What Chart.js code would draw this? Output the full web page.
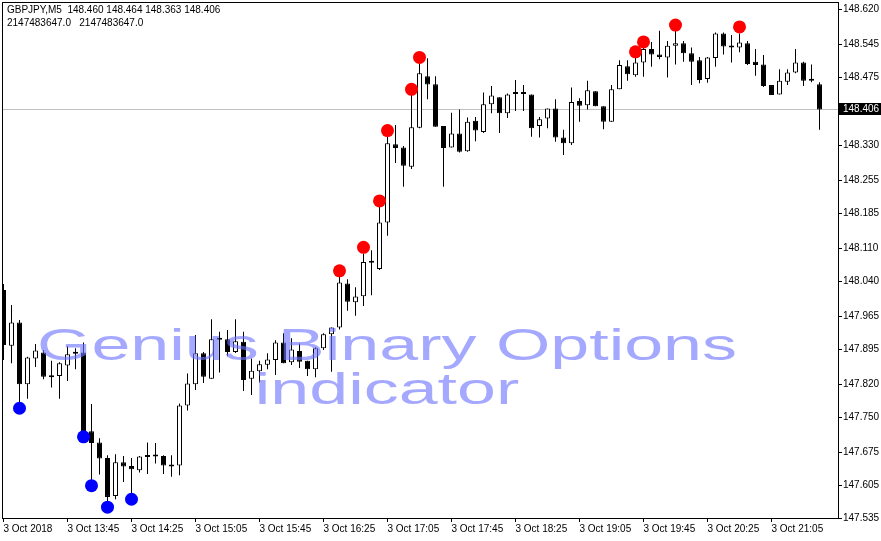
<!DOCTYPE html>
<html>
<head>
<meta charset="utf-8">
<title>GBPJPY M5</title>
<script src="https://cdn.jsdelivr.net/npm/chart.js@4.4.1/dist/chart.umd.min.js"></script>
<style>
html, body { margin: 0; padding: 0; background: #fff; }
canvas { display: block; }
</style>
</head>
<body>
<canvas id="gbpjpy" width="881" height="541"></canvas>
<script>
var headerLine1 = 'GBPJPY,M5  148.460 148.464 148.363 148.406';
var headerLine2 = '2147483647.0   2147483647.0';
var watermark = ['Genius Binary Options', 'indicator'];

// M5 bars, 13:05 .. 21:35
var opens = [148.021,147.902,147.952,147.820,147.875,147.888,147.838,147.838,147.860,147.885,
  147.888,147.720,147.696,147.663,147.582,147.654,147.646,147.637,147.665,147.666,
  147.667,147.647,147.647,147.775,147.820,147.886,147.832,147.916,147.916,147.889,
  147.911,147.832,147.848,147.862,147.872,147.909,147.867,147.891,147.870,147.852,
  147.897,147.927,147.941,148.035,147.995,148.008,148.080,148.066,148.165,148.332,
  148.325,148.284,148.367,148.477,148.460,148.371,148.325,148.355,148.317,148.382,
  148.358,148.417,148.432,148.398,148.440,148.440,148.438,148.371,148.387,148.408,
  148.346,148.334,148.424,148.415,148.445,148.413,148.380,148.449,148.498,148.479,
  148.506,148.535,148.523,148.517,148.542,148.547,148.526,148.511,148.471,148.516,
  148.568,148.541,148.538,148.547,148.508,148.502,148.458,148.438,148.465,148.485,
  148.506,148.471,148.460];
var highs = [148.034,147.989,147.957,147.879,147.906,147.893,147.870,147.867,147.901,147.897,
  147.909,147.778,147.705,147.669,147.671,147.667,147.663,147.667,147.696,147.695,
  147.669,147.669,147.779,147.843,147.925,147.889,147.959,147.932,147.936,147.959,
  147.932,147.875,147.870,147.886,147.914,147.929,147.918,147.907,147.870,147.899,
  147.929,147.941,148.049,148.044,148.027,148.099,148.106,148.199,148.348,148.373,
  148.328,148.437,148.504,148.515,148.477,148.371,148.399,148.406,148.389,148.390,
  148.442,148.456,148.432,148.440,148.469,148.458,148.438,148.390,148.408,148.428,
  148.363,148.453,148.430,148.467,148.445,148.413,148.458,148.511,148.511,148.536,
  148.543,148.550,148.574,148.552,148.575,148.552,148.538,148.518,148.518,148.570,
  148.570,148.565,148.568,148.552,148.535,148.522,148.458,148.492,148.492,148.535,
  148.508,148.502,148.464];
var lows = [147.872,147.865,147.780,147.789,147.857,147.831,147.813,147.789,147.827,147.852,
  147.712,147.612,147.628,147.570,147.575,147.612,147.584,147.632,147.629,147.651,
  147.629,147.623,147.626,147.764,147.808,147.823,147.832,147.845,147.880,147.887,
  147.806,147.797,147.824,147.852,147.840,147.865,147.861,147.855,147.838,147.835,
  147.893,147.847,147.937,147.977,147.966,147.987,148.010,148.064,148.137,148.292,
  148.241,148.279,148.366,148.428,148.369,148.241,148.325,148.314,148.316,148.338,
  148.356,148.398,148.356,148.388,148.403,148.403,148.348,148.346,148.366,148.337,
  148.309,148.330,148.380,148.406,148.413,148.364,148.380,148.449,148.467,148.476,
  148.476,148.497,148.513,148.474,148.502,148.508,148.458,148.462,148.463,148.497,
  148.523,148.506,148.528,148.501,148.478,148.454,148.437,148.438,148.458,148.483,
  148.456,148.464,148.363];
var closes = [147.904,147.952,147.820,147.877,147.892,147.836,147.835,147.865,147.884,147.889,
  147.715,147.695,147.662,147.580,147.654,147.645,147.639,147.666,147.667,147.667,
  147.647,147.645,147.775,147.822,147.886,147.836,147.916,147.915,147.889,147.912,
  147.829,147.849,147.863,147.873,147.909,147.865,147.894,147.868,147.852,147.897,
  147.927,147.941,148.037,147.996,148.007,148.081,148.079,148.165,148.334,148.324,
  148.286,148.368,148.483,148.459,148.369,148.324,148.355,148.316,148.380,148.361,
  148.417,148.436,148.398,148.438,148.439,148.439,148.366,148.385,148.408,148.346,
  148.334,148.422,148.414,148.447,148.413,148.380,148.449,148.501,148.481,148.506,
  148.535,148.523,148.518,148.542,148.547,148.526,148.508,148.469,148.517,148.568,
  148.540,148.538,148.549,148.503,148.501,148.456,148.437,148.467,148.485,148.506,
  148.467,148.467,148.406];

// indicator signals
var sellIdx = [42, 45, 47, 48, 51, 52, 79, 80, 84, 92];
var sellVals = [148.062, 148.112, 148.211, 148.361, 148.449, 148.517, 148.529, 148.550, 148.586, 148.582];
var buyIdx = [2, 10, 11, 13, 16];
var buyVals = [147.769, 147.708, 147.604, 147.558, 147.575];

var lastPrice = 148.406;
var tickIdx = [0, 8, 16, 24, 32, 40, 48, 56, 64, 72, 80, 88, 96];
var tickLabels = ['3 Oct 2018', '3 Oct 13:45', '3 Oct 14:25', '3 Oct 15:05', '3 Oct 15:45', '3 Oct 16:25',
  '3 Oct 17:05', '3 Oct 17:45', '3 Oct 18:25', '3 Oct 19:05', '3 Oct 19:45', '3 Oct 20:25', '3 Oct 21:05'];
var priceTicks = [148.620, 148.545, 148.475, 148.330, 148.255, 148.185, 148.110, 148.040,
  147.965, 147.895, 147.820, 147.750, 147.675, 147.605, 147.535];

var xMin = -0.0625, xMax = 104.3125;
var axisFont = { family: '"Liberation Sans", Arial, sans-serif', size: 10 };

var wicks = [], bodies = [], bodyColors = [];
for (var i = 0; i < opens.length; i++) {
  wicks.push({ x: i, y: [lows[i], highs[i]] });
  bodies.push({ x: i, y: [opens[i], closes[i]] });
  bodyColors.push(closes[i] >= opens[i] ? '#ffffff' : '#000000');
}
var sellPts = sellIdx.map(function (k, j) { return { x: k, y: sellVals[j] }; });
var buyPts = buyIdx.map(function (k, j) { return { x: k, y: buyVals[j] }; });

// keep chart area fixed, labels may hang over the edges
function noPad(s) {
  s.paddingLeft = 0; s.paddingRight = 0; s.paddingTop = 0; s.paddingBottom = 0;
}

var mtDecor = {
  id: 'mtDecor',
  afterDatasetsDraw: function (chart) {
    var ctx = chart.ctx, a = chart.chartArea;
    ctx.save();
    ctx.beginPath();
    ctx.rect(a.left, a.top, a.right - a.left, a.bottom - a.top);
    ctx.clip();
    ctx.font = '44px "Liberation Sans", Arial, sans-serif';
    ctx.fillStyle = 'rgba(110,115,255,0.62)';
    ctx.textAlign = 'center';
    ctx.textBaseline = 'alphabetic';
    var sx = 700 / ctx.measureText(watermark[0]).width;
    ctx.translate(387, 0);
    ctx.scale(sx, 1);
    ctx.fillText(watermark[0], 0, 360);
    ctx.fillText(watermark[1], 0, 404);
    ctx.restore();
  },
  afterDraw: function (chart) {
    var ctx = chart.ctx, a = chart.chartArea;
    ctx.save();
    ctx.strokeStyle = '#000';
    ctx.lineWidth = 1;
    ctx.strokeRect(a.left - 0.5, a.top - 0.5, a.right - a.left + 1, a.bottom - a.top + 1);

    // current price box on the axis
    var py = chart.scales.y.getPixelForValue(lastPrice);
    ctx.fillStyle = '#000';
    ctx.fillRect(a.right + 1, Math.round(py) - 6, chart.width - a.right - 1, 12);
    ctx.fillStyle = '#fff';
    ctx.font = '10px "Liberation Sans", Arial, sans-serif';
    ctx.textBaseline = 'middle';
    ctx.textAlign = 'left';
    ctx.fillText(lastPrice.toFixed(3), a.right + 5, Math.round(py));

    ctx.fillStyle = '#000';
    ctx.fillText(headerLine1, 7, 10);
    ctx.fillText(headerLine2, 7, 23);
    ctx.restore();
  }
};

var ctx = document.getElementById('gbpjpy').getContext('2d');
var chart = new Chart(ctx, {
  type: 'bar',
  data: {
    datasets: [
      { type: 'scatter', data: sellPts, backgroundColor: '#ff0000', borderWidth: 0, pointRadius: 6.5 },
      { type: 'scatter', data: buyPts, backgroundColor: '#0000ff', borderWidth: 0, pointRadius: 6.5 },
      { type: 'bar', data: bodies, backgroundColor: bodyColors, borderColor: '#000', borderWidth: 1,
        borderSkipped: false, barThickness: 5, grouped: false, minBarLength: 2, inflateAmount: 0 },
      { type: 'bar', data: wicks, backgroundColor: '#000', borderWidth: 0,
        barThickness: 1, grouped: false, inflateAmount: 0 },
      { type: 'line', data: [{ x: xMin, y: lastPrice }, { x: xMax, y: lastPrice }],
        borderColor: '#c0c0c0', borderWidth: 1, pointRadius: 0, fill: false }
    ]
  },
  options: {
    responsive: false,
    animation: false,
    devicePixelRatio: 1,
    layout: { autoPadding: false, padding: { left: 3, top: 3, right: 0, bottom: 0 } },
    plugins: { legend: { display: false }, tooltip: { enabled: false } },
    scales: {
      x: {
        type: 'linear', position: 'bottom', min: xMin, max: xMax, offset: false,
        grid: { drawOnChartArea: false, drawTicks: true, tickLength: 4, color: '#000', offset: false },
        border: { display: false },
        afterBuildTicks: function (s) { s.ticks = tickIdx.map(function (v) { return { value: v }; }); },
        afterFit: function (s) { s.height = 23; noPad(s); },
        ticks: {
          autoSkip: false, maxRotation: 0, align: 'start', padding: 1, color: '#000', font: axisFont,
          callback: function (v) { return tickLabels[tickIdx.indexOf(v)]; }
        }
      },
      y: {
        type: 'linear', position: 'right', min: 147.535, max: 148.633, beginAtZero: false,
        grid: { drawOnChartArea: false, drawTicks: true, tickLength: 4, color: '#000' },
        border: { display: false },
        afterBuildTicks: function (s) { s.ticks = priceTicks.map(function (v) { return { value: v }; }); },
        afterFit: function (s) { s.width = 43; noPad(s); },
        ticks: {
          autoSkip: false, padding: 1, color: '#000', font: axisFont,
          callback: function (v) { return v.toFixed(3); }
        }
      }
    }
  },
  plugins: [mtDecor]
});
</script>
</body>
</html>
